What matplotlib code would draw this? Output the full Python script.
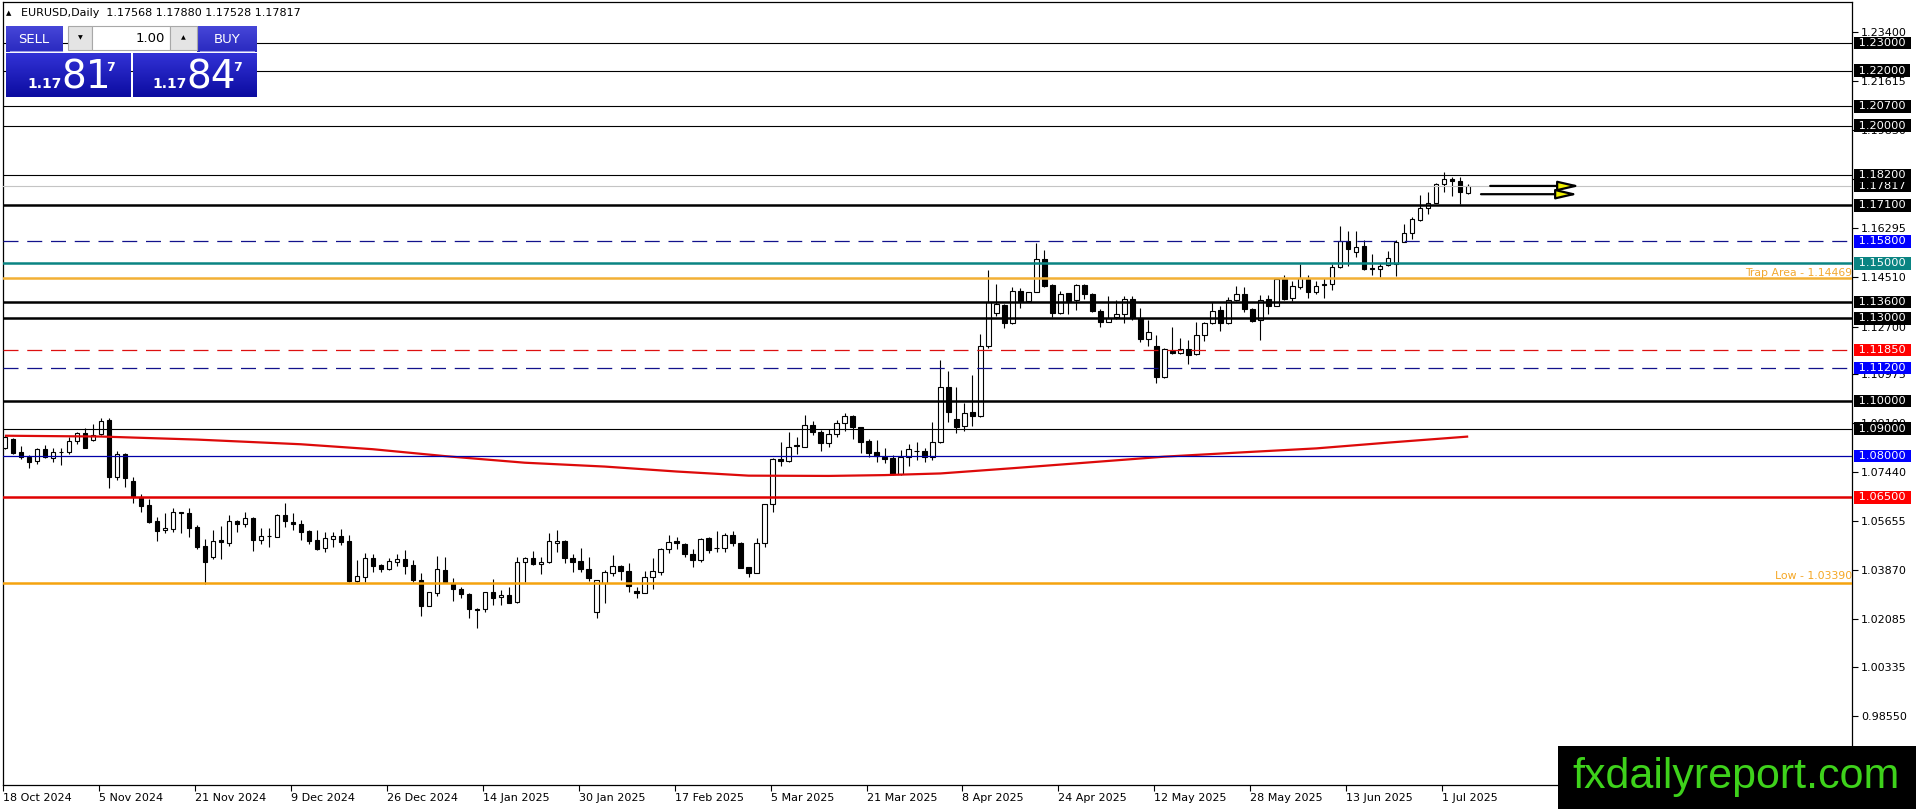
import numpy as np
import matplotlib.pyplot as plt
from matplotlib.patches import Rectangle
from matplotlib.colors import LinearSegmentedColormap

W, H = 1916, 809

# EURUSD daily bars, 18 Oct 2024 .. 4 Jul 2025
opens = [1.0828, 1.0861, 1.0814, 1.0798, 1.0782, 1.0825, 1.0792, 1.0816, 1.0814, 1.0856,
         1.0883, 1.0859, 1.0880, 1.0931, 1.0725, 1.0808, 1.0710, 1.0653, 1.0623, 1.0565,
         1.0532, 1.0534, 1.0596, 1.0595, 1.0544, 1.0475, 1.0433, 1.0496, 1.0486, 1.0565,
         1.0552, 1.0577, 1.0496, 1.0510, 1.0508, 1.0586, 1.0560, 1.0552, 1.0528, 1.0495,
         1.0465, 1.0499, 1.0510, 1.0492, 1.0348, 1.0362, 1.0429, 1.0405, 1.0390, 1.0417,
         1.0426, 1.0405, 1.0350, 1.0257, 1.0304, 1.0386, 1.0338, 1.0318, 1.0298, 1.0244,
         1.0244, 1.0306, 1.0287, 1.0295, 1.0269, 1.0414, 1.0429, 1.0407, 1.0414, 1.0483,
         1.0493, 1.0429, 1.0419, 1.0390, 1.0233, 1.0338, 1.0377, 1.0401, 1.0383, 1.0310,
         1.0304, 1.0360, 1.0378, 1.0462, 1.0492, 1.0481, 1.0445, 1.0421, 1.0502, 1.0468,
         1.0465, 1.0514, 1.0486, 1.0396, 1.0377, 1.0483, 1.0625, 1.0790, 1.0782, 1.0840,
         1.0834, 1.0913, 1.0886, 1.0849, 1.0879, 1.0921, 1.0946, 1.0904, 1.0856, 1.0814,
         1.0798, 1.0792, 1.0735, 1.0796, 1.0819, 1.0819, 1.0796, 1.0850, 1.1050, 1.0934,
         1.0911, 1.0959, 1.0947, 1.1198, 1.1318, 1.1349, 1.1282, 1.1399, 1.1363, 1.1397,
         1.1514, 1.1421, 1.1318, 1.1391, 1.1367, 1.1421, 1.1389, 1.1328, 1.1288, 1.1304,
         1.1315, 1.1369, 1.1300, 1.1225, 1.1200, 1.1086, 1.1183, 1.1173, 1.1188, 1.1170,
         1.1240, 1.1282, 1.1331, 1.1282, 1.1365, 1.1388, 1.1333, 1.1294, 1.1369, 1.1346,
         1.1443, 1.1373, 1.1415, 1.1443, 1.1395, 1.1425, 1.1424, 1.1488, 1.1581, 1.1540,
         1.1563, 1.1482, 1.1478, 1.1494, 1.1496, 1.1579, 1.1609, 1.1657, 1.1700, 1.1720,
         1.1787, 1.1805, 1.1799, 1.17568]
highs = [1.0877, 1.0865, 1.0838, 1.0804, 1.0828, 1.0840, 1.0828, 1.0828, 1.0871, 1.0889,
         1.0901, 1.0917, 1.0937, 1.0937, 1.0820, 1.0812, 1.0725, 1.0662, 1.0644, 1.0580,
         1.0592, 1.0610, 1.0598, 1.0610, 1.0550, 1.0499, 1.0532, 1.0546, 1.0586, 1.0568,
         1.0596, 1.0580, 1.0538, 1.0538, 1.0589, 1.0629, 1.0592, 1.0568, 1.0532, 1.0532,
         1.0526, 1.0523, 1.0534, 1.0514, 1.0423, 1.0447, 1.0445, 1.0407, 1.0429, 1.0443,
         1.0459, 1.0423, 1.0374, 1.0308, 1.0437, 1.0433, 1.0356, 1.0324, 1.0304, 1.0247,
         1.0308, 1.0353, 1.0314, 1.0326, 1.0433, 1.0433, 1.0456, 1.0435, 1.0520, 1.0532,
         1.0496, 1.0445, 1.0465, 1.0433, 1.0350, 1.0386, 1.0441, 1.0405, 1.0411, 1.0326,
         1.0381, 1.0429, 1.0465, 1.0514, 1.0508, 1.0483, 1.0462, 1.0504, 1.0508, 1.0528,
         1.0520, 1.0528, 1.0489, 1.0399, 1.0504, 1.0625, 1.0792, 1.0852, 1.0889, 1.0871,
         1.0949, 1.0929, 1.0895, 1.0897, 1.0931, 1.0955, 1.0949, 1.0907, 1.0861, 1.0859,
         1.0828, 1.0804, 1.0822, 1.0844, 1.0850, 1.0828, 1.0925, 1.1149, 1.1110, 1.1050,
         1.0992, 1.1095, 1.1243, 1.1476, 1.1425, 1.1352, 1.1415, 1.1409, 1.1397, 1.1573,
         1.1548, 1.1424, 1.1399, 1.1394, 1.1424, 1.1424, 1.1394, 1.1334, 1.1383, 1.1367,
         1.1383, 1.1383, 1.1339, 1.1294, 1.1240, 1.1191, 1.1270, 1.1228, 1.1222, 1.1288,
         1.1288, 1.1358, 1.1345, 1.1379, 1.1418, 1.1413, 1.1337, 1.1385, 1.1385, 1.1444,
         1.1458, 1.1436, 1.1496, 1.1458, 1.1437, 1.1446, 1.1498, 1.1636, 1.1619, 1.1619,
         1.1585, 1.1533, 1.1500, 1.1545, 1.1585, 1.1643, 1.1669, 1.1748, 1.1760, 1.1793,
         1.1830, 1.1812, 1.1812, 1.17880]
lows = [1.0824, 1.0808, 1.0790, 1.0758, 1.0771, 1.0792, 1.0780, 1.0766, 1.0806, 1.0843,
        1.0831, 1.0856, 1.0877, 1.0683, 1.0713, 1.0687, 1.0629, 1.0598, 1.0556, 1.0493,
        1.0520, 1.0526, 1.0522, 1.0505, 1.0462, 1.0335, 1.0428, 1.0425, 1.0474, 1.0526,
        1.0541, 1.0457, 1.0480, 1.0471, 1.0505, 1.0541, 1.0532, 1.0496, 1.0480, 1.0459,
        1.0450, 1.0471, 1.0477, 1.0344, 1.0344, 1.0344, 1.0380, 1.0380, 1.0386, 1.0402,
        1.0371, 1.0344, 1.0221, 1.0255, 1.0292, 1.0342, 1.0274, 1.0284, 1.0211, 1.0175,
        1.0235, 1.0260, 1.0260, 1.0266, 1.0266, 1.0344, 1.0405, 1.0371, 1.0411, 1.0453,
        1.0411, 1.0380, 1.0380, 1.0348, 1.0211, 1.0266, 1.0365, 1.0350, 1.0308, 1.0284,
        1.0302, 1.0316, 1.0369, 1.0447, 1.0463, 1.0435, 1.0399, 1.0417, 1.0447, 1.0450,
        1.0453, 1.0474, 1.0393, 1.0360, 1.0375, 1.0469, 1.0598, 1.0765, 1.0777, 1.0806,
        1.0832, 1.0877, 1.0820, 1.0834, 1.0868, 1.0892, 1.0861, 1.0812, 1.0795, 1.0780,
        1.0776, 1.0733, 1.0733, 1.0765, 1.0786, 1.0780, 1.0786, 1.0848, 1.0923, 1.0883,
        1.0891, 1.0911, 1.0943, 1.1191, 1.1310, 1.1264, 1.1280, 1.1337, 1.1361, 1.1395,
        1.1415, 1.1306, 1.1315, 1.1315, 1.1330, 1.1370, 1.1322, 1.1268, 1.1286, 1.1297,
        1.1282, 1.1294, 1.1216, 1.1198, 1.1064, 1.1082, 1.1170, 1.1170, 1.1133, 1.1168,
        1.1218, 1.1280, 1.1256, 1.1280, 1.1363, 1.1325, 1.1288, 1.1222, 1.1315, 1.1344,
        1.1367, 1.1363, 1.1406, 1.1373, 1.1388, 1.1373, 1.1403, 1.1482, 1.1490, 1.1524,
        1.1476, 1.1458, 1.1452, 1.1492, 1.1454, 1.1576, 1.1588, 1.1655, 1.1679, 1.1718,
        1.1760, 1.1746, 1.1714, 1.17528]
closes = [1.0871, 1.0812, 1.0798, 1.0780, 1.0825, 1.0796, 1.0814, 1.0815, 1.0856, 1.0883,
          1.0831, 1.0877, 1.0929, 1.0725, 1.0806, 1.0719, 1.0655, 1.0620, 1.0562, 1.0529,
          1.0540, 1.0596, 1.0592, 1.0540, 1.0471, 1.0417, 1.0493, 1.0487, 1.0565, 1.0552,
          1.0575, 1.0496, 1.0510, 1.0511, 1.0586, 1.0566, 1.0552, 1.0526, 1.0493, 1.0463,
          1.0502, 1.0510, 1.0489, 1.0347, 1.0365, 1.0429, 1.0402, 1.0390, 1.0419, 1.0425,
          1.0402, 1.0350, 1.0257, 1.0306, 1.0390, 1.0344, 1.0316, 1.0298, 1.0244, 1.0241,
          1.0306, 1.0286, 1.0296, 1.0268, 1.0414, 1.0429, 1.0407, 1.0414, 1.0492, 1.0492,
          1.0429, 1.0417, 1.0389, 1.0359, 1.0350, 1.0378, 1.0401, 1.0381, 1.0328, 1.0302,
          1.0360, 1.0383, 1.0463, 1.0489, 1.0483, 1.0444, 1.0421, 1.0499, 1.0459, 1.0465,
          1.0514, 1.0483, 1.0395, 1.0375, 1.0483, 1.0625, 1.0789, 1.0784, 1.0832, 1.0837,
          1.0913, 1.0886, 1.0849, 1.0879, 1.0921, 1.0946, 1.0904, 1.0852, 1.0812, 1.0800,
          1.0791, 1.0735, 1.0796, 1.0825, 1.0820, 1.0795, 1.0850, 1.1050, 1.0959, 1.0907,
          1.0955, 1.0947, 1.1198, 1.1358, 1.1352, 1.1282, 1.1399, 1.1363, 1.1395, 1.1514,
          1.1419, 1.1318, 1.1387, 1.1363, 1.1421, 1.1387, 1.1328, 1.1288, 1.1300, 1.1316,
          1.1369, 1.1303, 1.1224, 1.1250, 1.1086, 1.1189, 1.1173, 1.1188, 1.1167, 1.1240,
          1.1282, 1.1328, 1.1282, 1.1365, 1.1388, 1.1333, 1.1292, 1.1367, 1.1346, 1.1442,
          1.1369, 1.1418, 1.1446, 1.1395, 1.1419, 1.1420, 1.1488, 1.1581, 1.1551, 1.1561,
          1.1478, 1.1478, 1.1492, 1.1521, 1.1576, 1.1609, 1.1660, 1.1700, 1.1718, 1.1788,
          1.1805, 1.1799, 1.1758, 1.17817]

# moving average, sampled along the curve
ma_bars = [0, 12, 24, 37, 46, 55, 65, 75, 84, 93, 103, 110, 117, 126, 136, 145, 155, 164, 173, 183]
ma_vals = [1.0874, 1.0871, 1.0860, 1.0843, 1.0825, 1.0800, 1.0776, 1.0762, 1.0744, 1.0729,
           1.0728, 1.0731, 1.0737, 1.0756, 1.0778, 1.0798, 1.0814, 1.0828, 1.0849, 1.0871]

date_labels = ['18 Oct 2024', '5 Nov 2024', '21 Nov 2024', '9 Dec 2024', '26 Dec 2024',
               '14 Jan 2025', '30 Jan 2025', '17 Feb 2025', '5 Mar 2025', '21 Mar 2025',
               '8 Apr 2025', '24 Apr 2025', '12 May 2025', '28 May 2025', '13 Jun 2025',
               '1 Jul 2025']
price_ticks = [1.23400, 1.21615, 1.19830, 1.18045, 1.16295, 1.14510, 1.12700, 1.10975,
               1.09190, 1.07440, 1.05655, 1.03870, 1.02085, 1.00335, 0.98550]

# horizontal levels drawn on the chart
level_prices = [1.23, 1.22, 1.207, 1.20, 1.182, 1.171, 1.158, 1.15, 1.136, 1.13,
                1.1185, 1.112, 1.10, 1.09, 1.08, 1.065]
level_kinds = ['thin', 'thin', 'thin', 'thin', 'thin', 'thick', 'bdash', 'teal', 'thick', 'thick',
               'rdash', 'bdash', 'thick', 'thin', 'blue', 'red']
current_price = 1.17817
trap_price = 1.14469
low_price = 1.03390

# arrows to the right of the last bar
arrow_prices = [1.1781, 1.1751]
arrow_from = [185.75, 184.6]
arrow_to = [197.0, 196.75]

kind_style = {
    'thin': dict(color='black', lw=0.8, ls='-', box='black'),
    'thick': dict(color='black', lw=1.8, ls='-', box='black'),
    'bdash': dict(color='#12128c', lw=0.9, ls=(0, (12, 7)), box='#0000ff'),
    'rdash': dict(color='#dd1010', lw=0.9, ls=(0, (12, 7)), box='#ff0000'),
    'teal': dict(color='#0a8482', lw=1.8, ls='-', box='#0a8482'),
    'blue': dict(color='#0000a8', lw=0.9, ls='-', box='#0000ff'),
    'red': dict(color='#e00000', lw=1.8, ls='-', box='#ff0000'),
}

o = np.array(opens)
h = np.array(highs)
l = np.array(lows)
c = np.array(closes)
idx = np.arange(len(o))
up = c >= o

fig = plt.figure(figsize=(W / 100, H / 100), dpi=100)
fig.patch.set_facecolor('white')
ax = fig.add_axes([3 / W, 1 - 785 / H, (1852 - 3) / W, (785 - 2) / H])
ax.set_xlim(-0.125, 231)
ax.set_ylim(0.96057, 1.24489)
for sp in ax.spines.values():
    sp.set_linewidth(0.9)
    sp.set_color('black')

# candles
ax.vlines(idx, l, h, color='black', lw=0.8, zorder=2)
ax.bar(idx, np.maximum(np.abs(c - o), 0.00004), bottom=np.minimum(o, c), width=0.55,
       color=np.where(up, 'white', 'black'), edgecolor='black', linewidth=0.8, zorder=3)

# moving average
ax.plot(ma_bars, ma_vals, color='#dd0a0a', lw=1.6, zorder=4, solid_capstyle='butt')

# levels
ax.axhline(current_price, color='#c4c4c4', lw=0.8, zorder=4)
ax.axhline(trap_price, color='#f2b035', lw=1.8, zorder=4)
ax.axhline(low_price, color='#f5a30f', lw=1.8, zorder=4)
for p, k in zip(level_prices, level_kinds):
    st = kind_style[k]
    ax.axhline(p, color=st['color'], lw=st['lw'], ls=st['ls'], zorder=5)

ax.text(1.0, trap_price, 'Trap Area - 1.14469', transform=ax.get_yaxis_transform(),
        ha='right', va='bottom', fontsize=7.8, color='#f2a830', zorder=6)
ax.text(1.0, low_price + 0.0006, 'Low - 1.03390', transform=ax.get_yaxis_transform(),
        ha='right', va='bottom', fontsize=7.8, color='#f5a623', zorder=6)

# price boxes on the right scale
box_list = [(current_price, 'black')] + [(p, kind_style[k]['box']) for p, k in zip(level_prices, level_kinds)]
box_list.sort(key=lambda t: t[0])
for p, col in box_list:
    ax.annotate(' %.5f ' % p, xy=(1, p), xycoords=('axes fraction', 'data'),
                xytext=(3, 0), textcoords='offset pixels', ha='left', va='center',
                fontsize=8.2, color='white', annotation_clip=False, zorder=7,
                bbox=dict(boxstyle='square,pad=0.12', fc=col, ec='none'))

# arrows
for p, x0, x1 in zip(arrow_prices, arrow_from, arrow_to):
    ax.annotate('', xy=(x1, p), xytext=(x0, p),
                arrowprops=dict(arrowstyle='-|>,head_length=1.3,head_width=0.3',
                                fc='#f0f000', ec='black', lw=1.6, shrinkA=0, shrinkB=0),
                zorder=6)

# axes ticks
ax.yaxis.tick_right()
ax.set_yticks(price_ticks)
ax.set_yticklabels(['%.5f' % v for v in price_ticks])
ax.tick_params(axis='y', direction='out', length=4, width=0.8, pad=2.5, labelsize=8)
ax.set_xticks([i * 12 - 0.25 for i in range(len(date_labels))])
ax.set_xticklabels(date_labels, ha='left')
ax.tick_params(axis='x', direction='out', length=4, width=0.8, pad=2, labelsize=8)

# overlay for the trade panel, header and watermark (pixel coordinates)
ov = fig.add_axes([0, 0, 1, 1], zorder=10)
ov.set_xlim(0, W)
ov.set_ylim(H, 0)
ov.axis('off')
ov.patch.set_alpha(0)

ov.text(9, 13, '\u25B2', fontsize=5, ha='center', va='center')
ov.text(21, 13, 'EURUSD,Daily  1.17568 1.17880 1.17528 1.17817', fontsize=8, ha='left', va='center')

grad = np.linspace(0, 1, 50).reshape(-1, 1)
price_cmap = LinearSegmentedColormap.from_list('pb', ['#3232d6', '#0c0ca0'])
button_cmap = LinearSegmentedColormap.from_list('bb', ['#4646d8', '#2a2ac0'])
for x0, x1 in [(6, 131), (133, 257)]:
    ov.imshow(grad, extent=(x0, x1, 97, 53), cmap=price_cmap, aspect='auto', zorder=1)
for x0, x1 in [(6, 63), (197, 257)]:
    ov.imshow(grad, extent=(x0, x1, 52, 26), cmap=button_cmap, aspect='auto', zorder=1)
ov.plot([10, 62], [51, 51], color='#9a9ae6', lw=0.8, zorder=2)
ov.plot([200, 254], [51, 51], color='#9a9ae6', lw=0.8, zorder=2)
ov.add_patch(Rectangle((68, 26), 24, 24, fc='#e4e4e4', ec='#a8a8a8', lw=0.8, zorder=2))
ov.add_patch(Rectangle((92, 26), 78, 24, fc='white', ec='#a8a8a8', lw=0.8, zorder=2))
ov.add_patch(Rectangle((170, 26), 27, 24, fc='#e4e4e4', ec='#a8a8a8', lw=0.8, zorder=2))
ov.text(80, 38, '\u25BC', fontsize=4.5, ha='center', va='center', zorder=3)
ov.text(183, 38, '\u25B2', fontsize=4.5, ha='center', va='center', zorder=3)
ov.text(165, 38, '1.00', fontsize=9.5, ha='right', va='center', zorder=3)
ov.text(34, 39, 'SELL', fontsize=9.5, color='white', ha='center', va='center', zorder=3)
ov.text(227, 39, 'BUY', fontsize=9.5, color='white', ha='center', va='center', zorder=3)
for x_small, x_big, x_sup, big in [(27, 61, 106, '81'), (152, 186, 233, '84')]:
    ov.text(x_small, 88, '1.17', fontsize=10, fontweight='bold', color='white', va='baseline', zorder=3)
    ov.text(x_big, 88, big, fontsize=28, color='white', va='baseline', zorder=3)
    ov.text(x_sup, 71, '7', fontsize=9, fontweight='bold', color='white', va='baseline', zorder=3)

ov.add_patch(Rectangle((1558, 746), W - 1558, H - 746, fc='black', ec='none', zorder=2))
ov.text(1736, 788, 'fxdailyreport.com', fontsize=31, color='#3ed21b', ha='center', va='baseline',
        family=['Liberation Sans', 'DejaVu Sans'], zorder=3)

fig.savefig('out.png', dpi=100)
